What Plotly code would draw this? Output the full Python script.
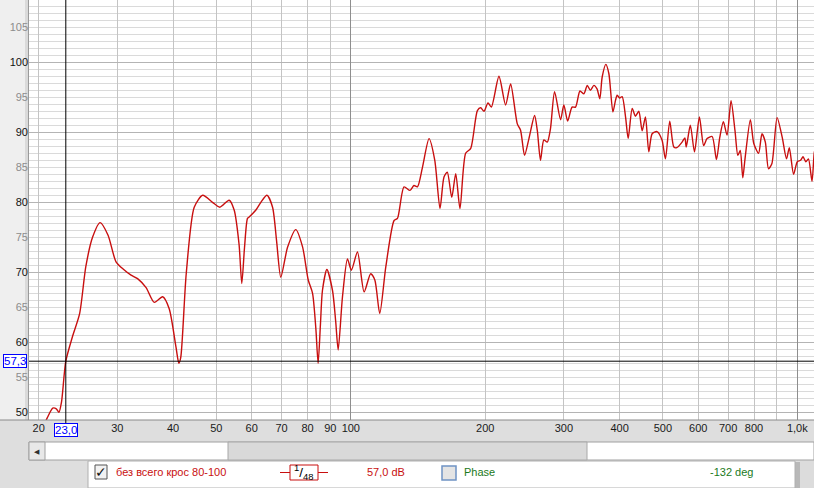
import math
import plotly.graph_objects as go

# ---------------- data ----------------
FREQ_HZ = [20.6, 20.9, 21.5, 21.9, 22.2, 22.5, 23.0, 23.8, 24.7, 25.5, 26.4, 27.45, 28.6, 29.8, 31.0,
           32.2, 33.3, 34.8, 36.3, 37.9, 39.2, 40.6, 41.2, 41.6, 42.8, 44.6, 46.6, 49.0, 50.9, 53.4,
           54.8, 56.2, 57.0, 57.8, 58.7, 59.2, 61.3, 62.9, 64.9, 66.8, 68.2, 69.7, 72.2, 75.3, 78.0,
           80.3, 82.1, 83.5, 84.5, 85.5, 86.4, 88.4, 91.0, 92.5, 93.7, 95.8, 98.3, 100.3, 103.5, 107.1,
           110.8, 113.2, 116.1, 119.8, 125.0, 127.2, 131.6, 135.7, 138.5, 141.0, 144.7, 149.7, 154.2,
           158.4, 161.7, 164.5, 168.3, 171.8, 175.6, 180.8, 185.6, 192.1, 195.4, 198.8, 202.9, 206.4,
           214.7, 222.2, 228.0, 236.0, 240.0, 245.0, 250.6, 258.0, 261.6, 266.0, 270.6, 275.4, 280.0,
           286.0, 295.0, 300.0, 306.0, 313.0, 318.7, 326.0, 332.7, 338.5, 344.0, 350.3, 356.0, 361.2,
           365.6, 372.6, 378.4, 386.4, 391.7, 395.0, 400.0, 405.3, 412.4, 418.1, 426.8, 434.0, 441.6,
           449.3, 457.0, 465.0, 473.0, 485.0, 497.7, 506.6, 518.0, 529.0, 537.0, 552.0, 560.0, 564.0,
           576.0, 588.5, 603.6, 617.0, 628.0, 644.6, 659.0, 670.6, 683.0, 696.0, 710.6, 725.0, 736.0,
           745.0, 755.0, 763.0, 785.0, 799.0, 819.0, 833.5, 848.0, 862.0, 877.0, 901.0, 925.0, 946.0,
           959.6, 981.0, 1000.0, 1017.0, 1030.0, 1045.0, 1059.0, 1079.0, 1091.0, 1100.0]
LEVEL_DB = [48.3, 49.2, 50.6, 50.5, 50.0, 51.5, 57.3, 60.8, 64.1, 70.8, 75.0, 77.1, 75.3, 71.5, 70.4,
            69.6, 69.1, 67.8, 65.7, 66.5, 64.8, 59.3, 57.0, 57.8, 69.8, 79.3, 81.0, 80.0, 79.3, 80.3,
            78.9, 74.0, 68.4, 73.5, 77.7, 77.9, 78.9, 80.0, 81.0, 79.3, 74.5, 69.3, 73.6, 76.1, 73.6,
            68.9, 67.0, 62.0, 57.0, 62.5, 67.4, 70.4, 67.4, 63.0, 58.9, 66.5, 71.9, 70.3, 72.9, 67.2,
            69.8, 68.9, 64.1, 70.8, 77.4, 77.7, 82.2, 81.7, 82.4, 82.2, 85.0, 89.1, 86.0,
            79.1, 83.6, 84.3, 80.7, 84.1, 79.1, 87.0, 87.7, 93.1, 93.5, 93.0, 94.2, 93.6,
            98.0, 93.9, 96.9, 91.2, 90.3, 86.7, 89.1, 92.4, 90.3, 86.0, 88.9, 88.6, 90.5,
            95.8, 91.8, 93.9, 91.6, 93.6, 93.6, 95.9, 95.5, 96.7, 96.0, 96.7, 96.2, 94.8,
            97.9, 99.7, 98.4, 92.9, 94.6, 95.3, 94.9, 95.1, 92.2, 89.1, 93.4, 92.3, 93.0,
            90.2, 92.2, 87.2, 89.8, 90.1, 88.9, 86.2, 91.6, 87.9, 87.8, 88.6, 89.2, 87.9,
            91.0, 87.2, 92.2, 88.1, 89.1, 89.4, 86.1, 89.3, 91.5, 89.6, 94.5, 90.3, 86.7,
            87.4, 83.5, 86.0, 91.8, 88.4, 87.0, 89.8, 88.6, 84.8, 85.5, 92.1, 89.3, 86.2,
            87.8, 84.0, 85.8, 86.0, 86.5, 85.8, 86.2, 83.0, 87.0, 88.0]

X_TICKS = [20, 30, 40, 50, 60, 70, 80, 90, 100, 200, 300, 400, 500, 600, 700, 800, 900, 1000]
X_LABELS = ["20", "30", "40", "50", "60", "70", "80", "90", "100", "200", "300", "400", "500",
            "600", "700", "800", "", "1,0k"]
X_MAJOR = [100, 1000]
Y_TICKS_10 = [50, 60, 70, 80, 90, 100]
Y_TICKS_5 = [55, 65, 75, 85, 95, 105]

CURSOR_FREQ = 23.0
CURSOR_DB = 57.3
CURSOR_FREQ_LABEL = "23,0"
CURSOR_DB_LABEL = "57,3"

SERIES_NAME = "без всего крос 80-100"
SMOOTHING = ("1", "48")
LEVEL_READOUT = "57,0 dB"
PHASE_LABEL = "Phase"
PHASE_READOUT = "-132 deg"

# ---------------- geometry ----------------
W, H = 814, 488
PL, PR, PT, PB = 29, 814, 0, 420
X_RANGE = [1.2793, 3.0374]
Y_RANGE = [48.9, 108.9]
FONT = "Liberation Sans, Arial, sans-serif"
RED = "#c80f0f"
GREEN = "#1b7a1b"
BLUE = "#0000ff"


def xp(px):
    return (px - PL) / (PR - PL)


def yp(py):
    return (PB - py) / (PB - PT)


fig = go.Figure()
fig.add_trace(go.Scatter(x=FREQ_HZ, y=LEVEL_DB, mode="lines",
                         line=dict(color=RED, width=1.4, shape="spline", smoothing=0.7),
                         hoverinfo="skip", showlegend=False))
# empty helpers so the overlay axes exist
fig.add_trace(go.Scatter(x=[], y=[], xaxis="x2", yaxis="y", showlegend=False))
fig.add_trace(go.Scatter(x=[], y=[], xaxis="x", yaxis="y2", showlegend=False))

shapes = []


def rect(x0, y0, x1, y1, fill, line=None, lw=1, layer="above"):
    shapes.append(dict(type="rect", xref="paper", yref="paper",
                       x0=xp(x0), x1=xp(x1), y0=yp(y0), y1=yp(y1),
                       fillcolor=fill, line=dict(color=line or fill, width=lw if line else 0),
                       layer=layer))


def hline(x0, x1, y, color, lw=1):
    shapes.append(dict(type="line", xref="paper", yref="paper",
                       x0=xp(x0), x1=xp(x1), y0=yp(y), y1=yp(y),
                       line=dict(color=color, width=lw)))


# left gutter (below so the tick labels stay visible)
rect(0, 0, 29, 420, "#efefef", layer="below")
rect(25, 0, 29, 420, "#dadada", layer="below")
shapes.append(dict(type="line", xref="paper", yref="paper", x0=xp(28.5), x1=xp(28.5),
                   y0=yp(0), y1=yp(420), line=dict(color="#9a9a9a", width=1)))
# bottom border of plot
hline(0, 814, 420, "#8a8a8a", 1)

# scrollbar
rect(29, 442, 814, 460, "#ffffff", "#a0a0a0")
rect(29, 442, 45, 460, "#e8e8e8", "#a0a0a0")
rect(228, 442, 587, 460, "#d9d9d9", "#a8a8a8")

# legend panel
rect(800, 461, 814, 488, "#dcdcdc")
rect(795, 462, 800, 488, "#b8b8b8")
rect(88, 461, 795, 488, "#ffffff", "#b0b0b0")
# checkbox
shapes.append(dict(type="rect", xref="paper", yref="paper", x0=xp(95), x1=xp(107),
                   y0=yp(465), y1=yp(479), fillcolor="#f2f2f2",
                   line=dict(color="#555555", width=1)))
# smoothing widget
hline(280, 290, 472.5, RED, 1)
hline(318, 328, 472.5, RED, 1)
shapes.append(dict(type="rect", xref="paper", yref="paper", x0=xp(290), x1=xp(318),
                   y0=yp(465), y1=yp(480), fillcolor="#ffffff",
                   line=dict(color=RED, width=1)))
# phase checkbox
shapes.append(dict(type="rect", xref="paper", yref="paper", x0=xp(442), x1=xp(456),
                   y0=yp(466), y1=yp(480), fillcolor="#e4e4e4",
                   line=dict(color="#6f93c4", width=1.5)))

# cursor lines (data coordinates from the named cursor values)
shapes.append(dict(type="line", xref="x", yref="paper", x0=CURSOR_FREQ, x1=CURSOR_FREQ,
                   y0=yp(424), y1=1, line=dict(color="#000000", width=1)))
shapes.append(dict(type="line", xref="paper", yref="y", x0=0, x1=1, y0=CURSOR_DB, y1=CURSOR_DB,
                   line=dict(color="#000000", width=1)))

ann = []


def text(x, y, s, color="#000000", size=11, xanchor="left", **kw):
    ann.append(dict(xref="paper", yref="paper", x=xp(x), y=yp(y), text=s, showarrow=False,
                    xanchor=xanchor, yanchor="middle", font=dict(family=FONT, size=size, color=color),
                    **kw))


text(37, 451, "◀", "#303030", 7, "center")
text(101, 472, "✓", "#111111", 14, "center")
text(114, 472, SERIES_NAME, RED, 11)
text(304, 471.5, "<sup>%s</sup>/<sub>%s</sub>" % SMOOTHING, "#000000", 13.5, "center")
text(386, 472, LEVEL_READOUT, RED, 11, "center")
text(462, 472, PHASE_LABEL, GREEN, 11)
text(731, 472, PHASE_READOUT, GREEN, 11, "center")

# cursor value boxes
ann.append(dict(xref="paper", yref="y", x=xp(15), y=CURSOR_DB, text=CURSOR_DB_LABEL,
                showarrow=False, xanchor="center", yanchor="middle",
                font=dict(family=FONT, size=11.5, color=BLUE), bgcolor="#ffffff",
                bordercolor=BLUE, borderwidth=1, borderpad=0))
ann.append(dict(xref="x", yref="paper", x=math.log10(CURSOR_FREQ), y=yp(430.5),
                text=CURSOR_FREQ_LABEL, showarrow=False, xanchor="center", yanchor="middle",
                font=dict(family=FONT, size=11.5, color=BLUE), bgcolor="#ffffff",
                bordercolor=BLUE, borderwidth=1, borderpad=0))

fig.update_layout(
    width=W, height=H,
    margin=dict(l=PL, r=W - PR, t=PT, b=H - PB, pad=0),
    paper_bgcolor="#dedede", plot_bgcolor="#ffffff",
    showlegend=False,
    font=dict(family=FONT, size=11, color="#1a1a1a"),
    xaxis=dict(type="log", range=X_RANGE, tickmode="array", tickvals=X_TICKS, ticktext=X_LABELS,
               showgrid=True, gridcolor="#c4c4c4", gridwidth=1, ticks="", zeroline=False,
               showline=False, tickfont=dict(size=11, color="#1a1a1a"), fixedrange=True,
               automargin=False),
    xaxis2=dict(type="log", range=X_RANGE, overlaying="x", tickmode="array", tickvals=X_MAJOR,
                showticklabels=False, showgrid=True, gridcolor="#8e8e8e", gridwidth=1, ticks="",
                zeroline=False, showline=False, anchor="y", automargin=False),
    yaxis=dict(range=Y_RANGE, tickmode="array", tickvals=Y_TICKS_10,
               ticktext=[str(v) for v in Y_TICKS_10],
               showgrid=True, gridcolor="#b4b4b4", gridwidth=1, ticks="", zeroline=False,
               showline=False, tickfont=dict(size=11, color="#111111"), automargin=False,
               minor=dict(dtick=1, tick0=0, showgrid=True, gridcolor="#dadada", gridwidth=1)),
    yaxis2=dict(range=Y_RANGE, overlaying="y", side="left", tickmode="array", tickvals=Y_TICKS_5,
                ticktext=[str(v) for v in Y_TICKS_5], showgrid=False, ticks="", zeroline=False,
                showline=False, tickfont=dict(size=11, color="#8c8c8c"), anchor="x",
                automargin=False),
    shapes=shapes,
    annotations=ann,
)

fig.write_html("out.html", config={"displayModeBar": False},
               post_script="document.body.style.margin='0px';")
